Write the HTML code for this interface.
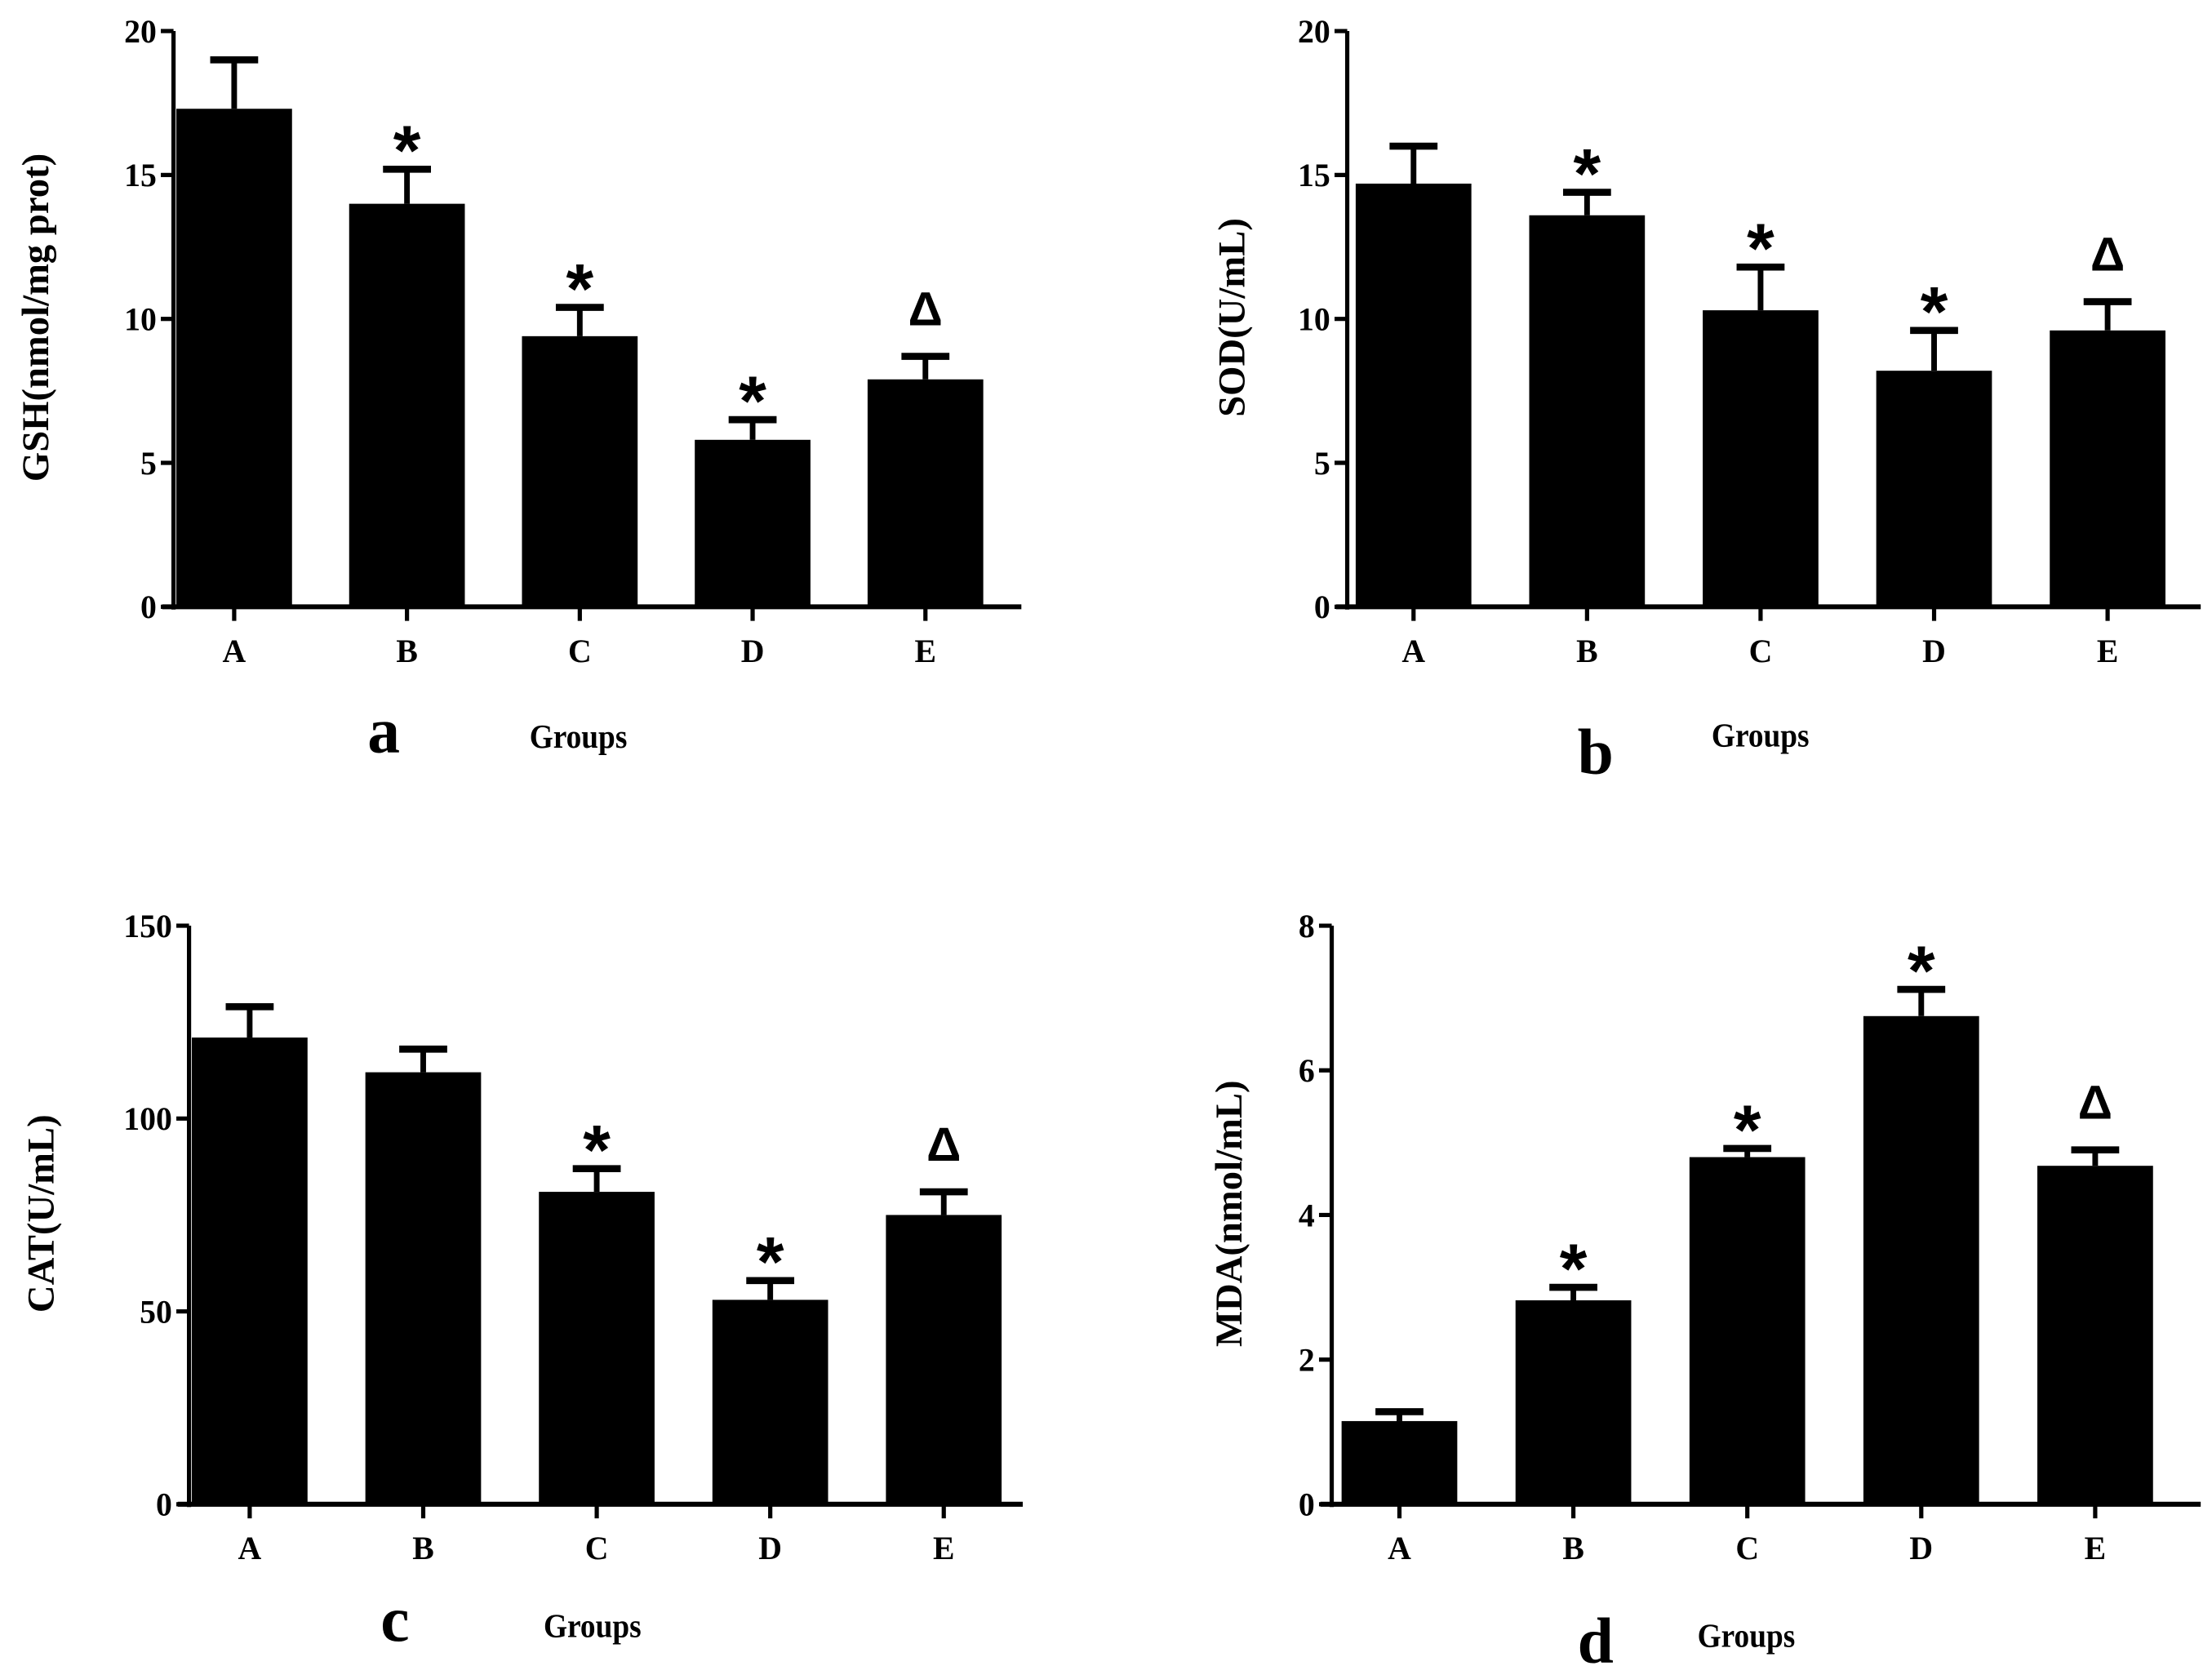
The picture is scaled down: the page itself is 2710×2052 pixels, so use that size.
<!DOCTYPE html>
<html><head><meta charset="utf-8"><style>
html,body{margin:0;padding:0;background:#fff;}
svg{display:block;}
text{font-family:"Liberation Serif",serif;font-weight:bold;fill:#000;}
</style></head><body>
<svg id="fig" width="2710" height="2052" viewBox="0 0 1568 1187" preserveAspectRatio="none" xmlns="http://www.w3.org/2000/svg"></svg>
<script>
const categories = ["A","B","C","D","E"];
const gshValues = [17.3,14.0,9.4,5.8,7.9];
const gshErr = [19.0,15.2,10.4,6.5,8.7];
const sodValues = [14.7,13.6,10.3,8.2,9.6];
const sodErr = [16.0,14.4,11.8,9.6,10.6];
const catValues = [121,112,81,53,75];
const catErr = [129,118,87,58,81];
const mdaValues = [1.15,2.82,4.8,6.75,4.68];
const mdaErr = [1.28,3.0,4.92,7.12,4.9];
const gshMarks = ["","*","*","*","Δ"];
const sodMarks = ["","*","*","*","Δ"];
const catMarks = ["","","*","*","Δ"];
const mdaMarks = ["","*","*","*","Δ"];
const gshTicks = [0,5,10,15,20];
const sodTicks = [0,5,10,15,20];
const catTicks = [0,50,100,150];
const mdaTicks = [0,2,4,6,8];

const NS="http://www.w3.org/2000/svg";
const svg=document.getElementById('fig');
function mk(tag,attrs,parent){const e=document.createElementNS(NS,tag);for(const k in attrs)e.setAttribute(k,attrs[k]);(parent||svg).appendChild(e);return e;}

function panel(cfg){
  const g=mk('g',{});
  
  
  const ymax=cfg.ticks[cfg.ticks.length-1];
  const y=v=>cfg.y0-(v/ymax)*(cfg.y0-cfg.yTop);
  const x=i=>cfg.x0+i*cfg.step;
  cfg.values.forEach((v,i)=>{
    const r=mk('rect',{x:x(i)-41,y:y(v),width:82,height:cfg.y0-y(v),fill:'#000'},g);
    
    
    const e=mk('line',{x1:x(i),x2:x(i),y1:y(v),y2:y(cfg.err[i]),stroke:'#000','stroke-width':4},g);
    
    
    const c=mk('line',{x1:x(i)-17,x2:x(i)+17,y1:y(cfg.err[i]),y2:y(cfg.err[i]),stroke:'#000','stroke-width':5},g);
    
    
    if(cfg.marks[i]){
      const isStar=cfg.marks[i]==='*';
      const t=mk('text',{x:x(i),y:y(cfg.err[i])-(isStar?-4:22),'text-anchor':'middle','font-size':isStar?50:34,style:'font-family:"Liberation Sans",sans-serif'},g);
      t.textContent=cfg.marks[i];
      
      
    }
    const tk=mk('line',{x1:x(i),x2:x(i),y1:cfg.y0,y2:cfg.y0+10,stroke:'#000','stroke-width':3},g);
    
    
    const lab=mk('text',{x:x(i),y:cfg.y0+39,'text-anchor':'middle','font-size':23},g);
    lab.textContent=categories[i];
    
    
  });
  const ya=mk('line',{x1:cfg.ax,x2:cfg.ax,y1:cfg.yTop,y2:cfg.y0+2,stroke:'#000','stroke-width':3},g);
  
  
  const xa=mk('line',{x1:cfg.ax-8,x2:cfg.xEnd,y1:cfg.y0,y2:cfg.y0,stroke:'#000','stroke-width':3.5},g);
  
  
  cfg.ticks.forEach(t=>{
    const l=mk('line',{x1:cfg.ax-9,x2:cfg.ax,y1:y(t),y2:y(t),stroke:'#000','stroke-width':3},g);
    
    
    const tx=mk('text',{x:cfg.ax-12,y:y(t)+8,'text-anchor':'end','font-size':23},g);
    tx.textContent=t;
    
    
  });
  const yt=mk('text',{x:0,y:0,'text-anchor':'middle','font-size':27,transform:`translate(${cfg.ytX},${cfg.ytY}) rotate(-90)`},g);
  yt.textContent=cfg.ytitle;
  
  
  const gr=mk('text',{x:cfg.grX,y:cfg.grY,'text-anchor':'middle','font-size':24,transform:`scale(0.9,1) translate(${cfg.grX*0.111},0)`},g);
  gr.textContent='Groups';
  
  
  const pl=mk('text',{x:cfg.lX,y:cfg.lY,'text-anchor':'middle','font-size':46},g);
  pl.textContent=cfg.letter;
  
  
}

panel({name:'panel-a-gsh',values:gshValues,err:gshErr,marks:gshMarks,ticks:gshTicks,ax:123,x0:166,step:122.5,y0:430,yTop:22,xEnd:724,ytitle:'GSH(nmol/mg  prot)',ytX:34,ytY:225,grX:410,grY:530,letter:'a',lX:272,lY:533});
panel({name:'panel-b-sod',values:sodValues,err:sodErr,marks:sodMarks,ticks:sodTicks,ax:955,x0:1002,step:123,y0:430,yTop:22,xEnd:1560,ytitle:'SOD(U/mL)',ytX:882,ytY:225,grX:1248,grY:529,letter:'b',lX:1131,lY:548});
panel({name:'panel-c-cat',values:catValues,err:catErr,marks:catMarks,ticks:catTicks,ax:134,x0:177,step:123,y0:1066,yTop:656,xEnd:725,ytitle:'CAT(U/mL)',ytX:38,ytY:860,grX:420,grY:1160,letter:'c',lX:280,lY:1163});
panel({name:'panel-d-mda',values:mdaValues,err:mdaErr,marks:mdaMarks,ticks:mdaTicks,ax:944,x0:992,step:123.3,y0:1066,yTop:656,xEnd:1560,ytitle:'MDA(nmol/mL)',ytX:880,ytY:860,grX:1238,grY:1167,letter:'d',lX:1131,lY:1178});
</script>
</body></html>
